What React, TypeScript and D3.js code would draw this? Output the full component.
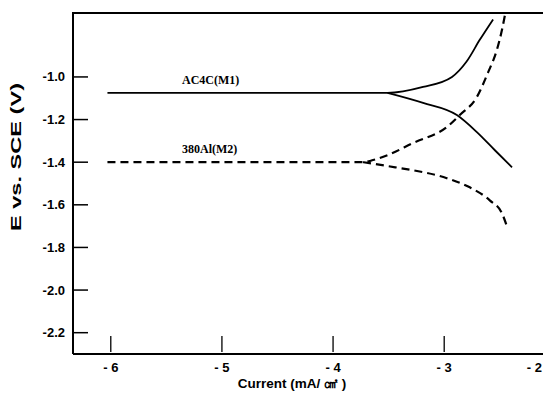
import React, { useRef, useEffect } from "react";
import * as d3 from "d3";

// polarization curves, [log current, E vs SCE]
const m1Anodic: [number, number][] = [
  [-6.03, -1.075], [-3.51, -1.075], [-3.19, -1.047], [-2.93, -1.0],
  [-2.8, -0.929], [-2.68, -0.826], [-2.56, -0.73],
];
const m1Cathodic: [number, number][] = [
  [-3.51, -1.075], [-3.19, -1.122], [-2.886, -1.179], [-2.706, -1.259],
  [-2.544, -1.344], [-2.39, -1.424],
];
const m2Anodic: [number, number][] = [
  [-6.03, -1.4], [-3.73, -1.4], [-3.64, -1.39], [-3.51, -1.367], [-3.28, -1.31],
  [-2.976, -1.235], [-2.86, -1.179], [-2.706, -1.094], [-2.607, -0.981],
  [-2.526, -0.873], [-2.48, -0.779], [-2.45, -0.7],
];
const m2Cathodic: [number, number][] = [
  [-3.73, -1.4], [-3.44, -1.424], [-3.28, -1.438], [-2.976, -1.475],
  [-2.77, -1.518], [-2.59, -1.579], [-2.48, -1.64], [-2.43, -1.71],
];

const xTicks = [-6, -5, -4, -3, -2];
const yTicks = [-1.0, -1.2, -1.4, -1.6, -1.8, -2.0, -2.2];

const App = () => {
  const ref = useRef<SVGSVGElement>(null);

  useEffect(() => {
    const svg = d3.select(ref.current);
    svg.selectAll("*").remove();

    const left = 73, right = 542, top = 13, bottom = 354;
    const x = d3.scaleLinear().domain([-6.34, -2.12]).range([left, right]);
    const y = d3.scaleLinear().domain([-0.7, -2.3]).range([top, bottom]);

    const sans = "'Liberation Sans', Arial, sans-serif";
    const serif = "'Liberation Serif', 'Times New Roman', serif";

    // frame
    svg.append("path")
      .attr("d", `M${left},${bottom}V${top}H${543}M${left},${bottom}H${543}`)
      .attr("fill", "none").attr("stroke", "#000").attr("stroke-width", 2);

    // y ticks (inward)
    const yg = svg.append("g");
    yTicks.forEach((t) => {
      yg.append("line")
        .attr("x1", left).attr("x2", left + 15)
        .attr("y1", y(t)).attr("y2", y(t))
        .attr("stroke", "#000").attr("stroke-width", 1.5);
      yg.append("text")
        .attr("x", 65).attr("y", y(t) + 4.5)
        .attr("text-anchor", "end")
        .style("font", `bold 13px ${sans}`)
        .text(t.toFixed(1));
    });

    // x ticks (inward); last label sits at the cropped right edge
    const xg = svg.append("g");
    xTicks.forEach((t) => {
      const px = x(t);
      if (px <= right) {
        xg.append("line")
          .attr("x1", px).attr("x2", px)
          .attr("y1", bottom - 2).attr("y2", bottom - 18)
          .attr("stroke", "#000").attr("stroke-width", 1.3);
      }
      const edge = px > right - 8;
      xg.append("text")
        .attr("x", edge ? 542 : px).attr("y", 372)
        .attr("text-anchor", edge ? "end" : "middle")
        .style("font", `bold 13px ${sans}`)
        .text(`- ${Math.abs(t)}`);
    });

    // axis titles
    svg.append("text")
      .attr("x", 292).attr("y", 388)
      .attr("text-anchor", "middle")
      .style("font", `bold 13.5px ${sans}`)
      .text("Current (mA/ ㎠ )");

    svg.append("text")
      .attr("transform", "translate(21,157) rotate(-90)")
      .attr("text-anchor", "middle")
      .attr("textLength", 148)
      .attr("lengthAdjust", "spacingAndGlyphs")
      .style("font", `bold 14px ${sans}`)
      .text("E vs. SCE (V)");

    const line = d3.line<[number, number]>()
      .x((d) => x(d[0]))
      .y((d) => y(d[1]))
      .curve(d3.curveMonotoneX);

    const drawCurve = (pts: [number, number][], dashed: boolean) => {
      svg.append("path")
        .attr("d", line(pts))
        .attr("fill", "none")
        .attr("stroke", "#000")
        .attr("stroke-width", dashed ? 2.2 : 1.8)
        .attr("stroke-dasharray", dashed ? "8,5" : null);
    };

    drawCurve(m1Anodic, false);
    drawCurve(m1Cathodic, false);
    drawCurve(m2Anodic, true);
    drawCurve(m2Cathodic, true);

    // curve labels
    svg.append("text")
      .attr("x", 182).attr("y", 84)
      .style("font", `bold 12px ${serif}`)
      .text("AC4C(M1)");
    svg.append("text")
      .attr("x", 182).attr("y", 153)
      .style("font", `bold 12px ${serif}`)
      .text("380Al(M2)");
  }, []);

  return (
    <svg
      ref={ref}
      width={543}
      height={401}
      style={{ position: "absolute", left: 0, top: 0, background: "#fff" }}
    />
  );
};

export default App;
